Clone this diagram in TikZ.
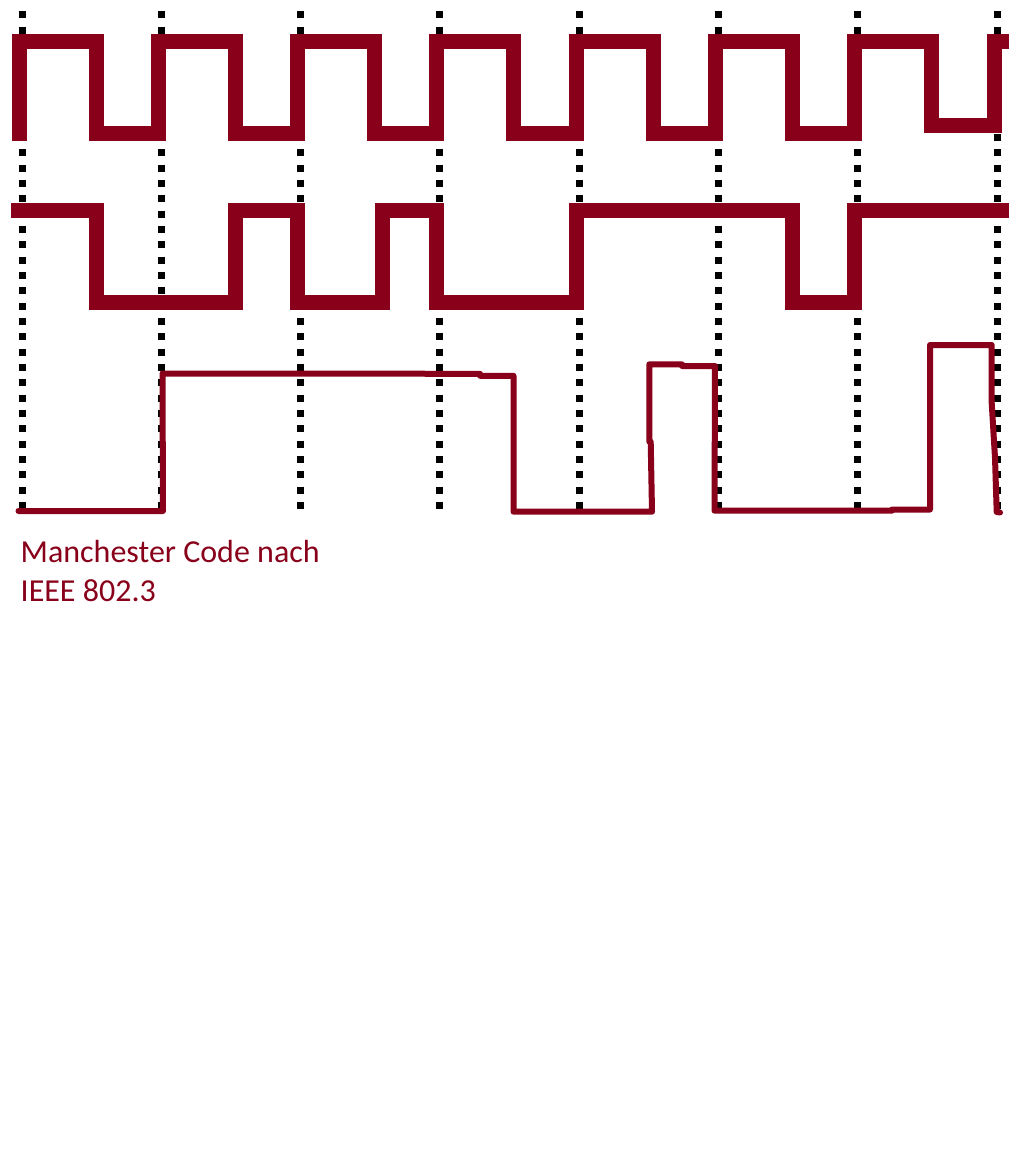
\documentclass[tikz,border=0pt]{standalone}
\usepackage{fontspec}
\setmainfont{Carlito}
\definecolor{sigred}{HTML}{880019}
\usepackage{tikz}

\begin{document}
\begin{tikzpicture}[x=1pt, y=-1pt,
    grid/.style={line width=7pt, dash pattern=on 7pt off 8.33pt},
    thicksig/.style={sigred, line width=15pt},
    manch/.style={sigred, line width=6pt, line cap=round, line join=round},
    caption/.style={sigred, anchor=base west, inner sep=0pt, font=\fontsize{32}{39}\selectfont}]
  \useasboundingbox (0,0) rectangle (1027,1166);
  % dotted bit boundaries
  \foreach \k in {0,...,7}
    \draw[grid] ({22+139.3*\k},11.3) -- ({22+139.3*\k},512);
  % Clock
  \draw[thicksig] (19,141) -- (19,41.5) -- (96,41.5) -- (96,133.5)
    -- (158.3,133.5) -- (158.3,41.5) -- (235.3,41.5) -- (235.3,133.5)
    -- (297.6,133.5) -- (297.6,41.5) -- (374.6,41.5) -- (374.6,133.5)
    -- (436.9,133.5) -- (436.9,41.5) -- (513.9,41.5) -- (513.9,133.5)
    -- (576.2,133.5) -- (576.2,41.5) -- (653.2,41.5) -- (653.2,133.5)
    -- (715.5,133.5) -- (715.5,41.5) -- (792.5,41.5) -- (792.5,133.5)
    -- (854.8,133.5) -- (854.8,41.5) -- (931.8,41.5) -- (931.8,126)
    -- (994.1,126) -- (994.1,41.5) -- (1009,41.5);
  % Data
  \draw[thicksig] (11,210.7) -- (96,210.7) -- (96,302.7) -- (235.3,302.7)
    -- (235.3,210.7) -- (297.6,210.7) -- (297.6,302.7) -- (382.5,302.7)
    -- (382.5,210.7) -- (436.9,210.7) -- (436.9,302.7) -- (576.2,302.7)
    -- (576.2,210.7) -- (792.5,210.7) -- (792.5,302.7) -- (854.8,302.7)
    -- (854.8,210.7) -- (1009,210.7);
  % Manchester code (hand drawn)
  \draw[manch] (18.5,511) -- (163,511) -- (162.5,373.5) -- (480,373.8)
    -- (480,375.8) -- (513.5,375.8) -- (513.5,511.7) -- (652,511.7)
    -- (650.7,441.7) -- (649.3,441.7) -- (649.3,364.3) -- (682,364.3)
    -- (682,366) -- (715,366) -- (714.5,510.7) -- (892,510.7)
    -- (892,509.5) -- (930,509.5) -- (930,345) -- (991.7,345)
    -- (991.7,403) -- (995,458) -- (996.7,512) -- (1000,512.5);
  % Labels
  \node[caption] (codename) at (20.5,562) {Manchester Code nach};
  \node[caption] (norm) at (20.5,601) {IEEE 802.3};
\end{tikzpicture}
\end{document}
